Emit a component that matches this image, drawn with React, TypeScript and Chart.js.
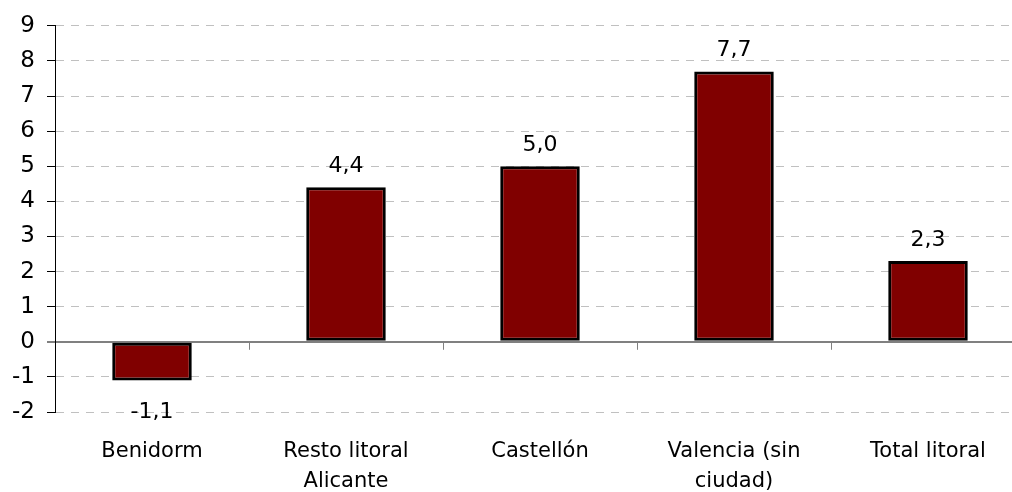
import React, { useEffect, useRef } from "react";
import { Chart, registerables } from "chart.js";

Chart.register(...registerables);

const categories: (string | string[])[] = [
  "Benidorm",
  ["Resto litoral", "Alicante"],
  "Castellón",
  ["Valencia (sin", "ciudad)"],
  "Total litoral",
];
const values: number[] = [-1.1, 4.4, 5.0, 7.7, 2.3];
const yMin = -2;
const yMax = 9;
const yStep = 1;

const FONT = "'DejaVu Sans', sans-serif";

const labelPlugin = {
  id: "valueLabels",
  afterDatasetsDraw(chart: any) {
    const ctx = chart.ctx;
    const meta = chart.getDatasetMeta(0);
    const xs = chart.scales.x;
    const ys = chart.scales.y;
    const y0 = ys.getPixelForValue(0);
    ctx.save();
    ctx.strokeStyle = "#808080";
    ctx.lineWidth = 1;
    for (let i = 1; i < values.length; i++) {
      const bx = Math.round((xs.getPixelForValue(i - 1) + xs.getPixelForValue(i)) / 2) + 0.5;
      ctx.beginPath();
      ctx.moveTo(bx, y0);
      ctx.lineTo(bx, y0 + 8);
      ctx.stroke();
    }
    ctx.fillStyle = "#000";
    ctx.font = `22px ${FONT}`;
    ctx.textAlign = "center";
    ctx.textBaseline = "alphabetic";
    meta.data.forEach((bar: any, i: number) => {
      const v = values[i];
      const txt = v.toFixed(1).replace(".", ",");
      if (v >= 0) ctx.fillText(txt, bar.x, bar.y - 15);
      else ctx.fillText(txt, bar.x, bar.y + 38);
    });
    ctx.restore();
  },
};

export default function App() {
  const ref = useRef<HTMLCanvasElement>(null);
  useEffect(() => {
    if (!ref.current) return;
    const chart = new Chart(ref.current, {
      type: "bar",
      data: {
        labels: categories as any,
        datasets: [
          {
            data: values,
            backgroundColor: "#800000",
            borderColor: "#000000",
            borderWidth: 3,
            borderSkipped: false,
            barPercentage: 0.41,
            categoryPercentage: 1,
          },
        ],
      },
      options: {
        responsive: false,
        animation: false,
        layout: { padding: { top: 25, right: 15, left: 0, bottom: 0 } },
        plugins: { legend: { display: false }, tooltip: { enabled: false } },
        scales: {
          x: {
            grid: { display: false },
            border: { display: false },
            ticks: {
              color: "#000",
              font: { family: FONT, size: 21, lineHeight: 1.4 },
              padding: 17,
              maxRotation: 0,
              autoSkip: false,
            },
            afterFit: (s: any) => {
              s.height = 80;
            },
          },
          y: {
            min: yMin,
            max: yMax,
            grid: {
              color: (c: any) => (c.tick && c.tick.value === 0 ? "#808080" : "#c0c0c0"),
              lineWidth: (c: any) => (c.tick && c.tick.value === 0 ? 2 : 1),
              tickColor: (c: any) => (c.tick && c.tick.value === 0 ? "#808080" : "#000"),
              tickLength: 8,
            },
            border: {
              display: true,
              color: "#000",
              width: 1,
              dash: (c: any) => (c.tick && c.tick.value === 0 ? [] : [8, 7]),
            },
            ticks: {
              stepSize: yStep,
              color: "#000",
              font: { family: FONT, size: 23 },
              padding: 12,
            },
            afterFit: (s: any) => {
              s.width = 55;
            },
          },
        },
      },
      plugins: [labelPlugin],
    });
    return () => chart.destroy();
  }, []);
  return (
    <div
      style={{
        position: "fixed",
        left: 0,
        top: 0,
        width: 1012,
        height: 492,
        overflow: "hidden",
        background: "#fff",
      }}
    >
      <canvas ref={ref} width={1040} height={492} style={{ display: "block" }} />
    </div>
  );
}
